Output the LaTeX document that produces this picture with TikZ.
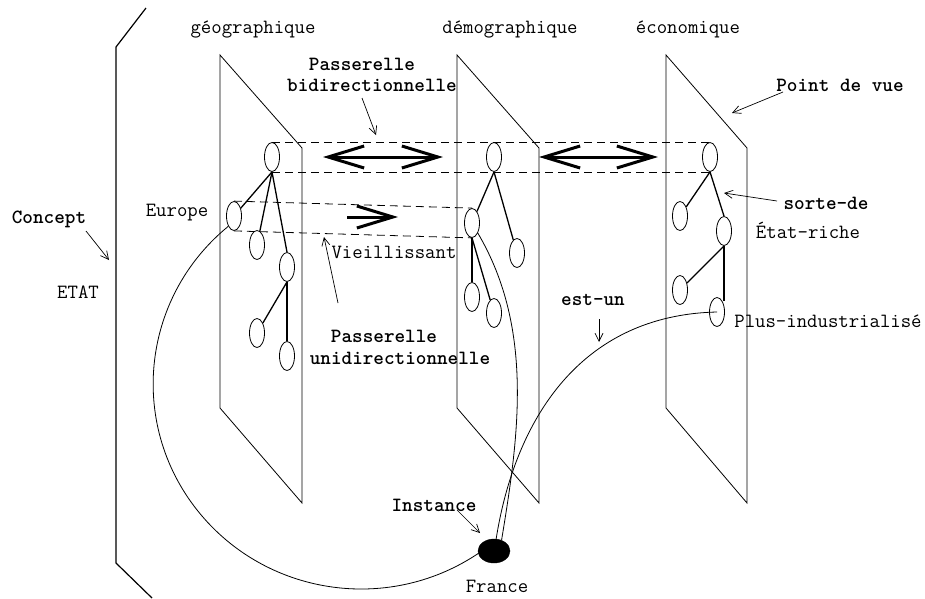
\documentclass[tikz,border=0pt]{standalone}
\usepackage{fontspec}
\usetikzlibrary{arrows.meta,calc,shapes.geometric}
\begin{document}
\begin{tikzpicture}[x=1pt,y=-1pt,
  lbl/.style={font=\ttfamily\fontsize{20.2}{22}\selectfont, inner sep=0, anchor=base},
  blbl/.style={lbl, font=\ttfamily\bfseries\fontsize{20.2}{22}\selectfont},
  ell/.style={draw, ellipse, minimum width=15, minimum height=29, inner sep=0, line width=0.8},
  plane/.style={line width=0.8},
  tr/.style={line width=1.3},
  dsh/.style={dash pattern=on 8pt off 5pt, line width=0.8},
  cv/.style={line width=0.8},
  thin/.style={line width=0.7, -{Straight Barb[length=8pt,width=8pt]}},
  bigarrow/.style={line width=3pt, >={Straight Barb[length=36pt,width=22pt]}}
]
\useasboundingbox (0,0) rectangle (925,598);

% concept bracket
\draw[line width=1.2] (146,8) -- (116,47) -- (116,563) -- (152,598);

% planes
\draw[plane] (220,55) -- (302,148) -- (302,503) -- (220,408) -- cycle;
\draw[plane] (457,55) -- (539,148) -- (539,503) -- (457,408) -- cycle;
\draw[plane] (666,55) -- (747,148) -- (747,503) -- (666,408) -- cycle;

% left tree
\node[ell] (g0) at (272,157) {};
\node[ell] (g1) at (234,216) {};
\node[ell] (g2) at (257,245) {};
\node[ell] (g3) at (287,267) {};
\node[ell] (g4) at (257,333) {};
\node[ell] (g5) at (287,356) {};
\draw[tr] (g0.south) -- (g1);
\draw[tr] (g0.south) -- (g2);
\draw[tr] (g0.south) -- (g3.north);
\draw[tr] (g3.south) -- (g4);
\draw[tr] (g3.south) -- (g5.north);

% middle tree
\node[ell] (m0) at (494,157) {};
\node[ell] (m1) at (472,223) {};
\node[ell] (m2) at (517,253) {};
\node[ell] (m3) at (472,297) {};
\node[ell] (m4) at (494,313) {};
\draw[tr] (m0.south) -- (m1);
\draw[tr] (m0.south) -- (m2);
\draw[tr] (m1.south) -- (m3.north);
\draw[tr] (m1.south) -- (m4);

% right tree
\node[ell] (r0) at (710,157) {};
\node[ell] (r1) at (680,216) {};
\node[ell] (r2) at (724,231) {};
\node[ell] (r3) at (680,290) {};
\node[ell] (r4) at (717,312) {};
\draw[tr] (r0.south) -- (r1);
\draw[tr] (r0.south) -- (r2.north);
\draw[tr] (r2.south) -- (r3);
\draw[tr] (r2.south) -- (r2.south |- r4.north east);

% instance
\node[draw, fill=black, ellipse, minimum width=32, minimum height=24, inner sep=0] (fr) at (494,551) {};

% dashed passerelles
\draw[dsh] (g0.north) -- (r0.north);
\draw[dsh] (g0.south) -- (r0.south);
\draw[dsh] (g1.north) -- (m1.north);
\draw[dsh] (g1.south) -- (m1.south);

% thick arrows
\coordinate (b1l) at (323,157);
\coordinate (b1r) at (443,157);
\coordinate (b2l) at (539,157);
\coordinate (b2r) at (658,157);
\coordinate (u1) at (347,217);
\coordinate (u2) at (398,217);
\draw[bigarrow,<->] (b1l) -- (b1r);
\draw[bigarrow,<->] (b2l) -- (b2r);
\draw[bigarrow,->] (u1) -- (u2);

% curves
\draw[cv] (g1.241) arc[start angle=-129.7, end angle=-304.9, x radius=208, y radius=205];
\draw[cv] (fr.80) .. controls (515,420) and (580,315) .. (r4.center);
\draw[cv] (m1.-60) .. controls (535,330) and (518,440) .. (fr.55);

% labels
\node[lbl] (tg) at (253,33) {géographique};
\node[lbl] (td) at (510,33) {démographique};
\node[lbl] (te) at (688,33) {économique};
\node[blbl] (pb1) at (362,70) {Passerelle};
\node[blbl] (pb2) at (372,91) {bidirectionnelle};
\node[blbl] (pv) at (840,91) {Point de vue};
\node[blbl] (sd) at (826,209) {sorte-de};
\node[lbl] (er) at (808,238) {État-riche};
\node[lbl] (eu) at (177,216) {Europe};
\node[blbl] (co) at (49,223) {Concept};
\node[lbl] (et) at (78,298) {ETAT};
\node[lbl] (vi) at (394,258) {Vieillissant};
\node[blbl] (eun) at (593,305) {est-un};
\node[lbl] (pi) at (828,327) {Plus-industrialisé};
\node[blbl] (pu1) at (384,342) {Passerelle};
\node[blbl] (pu2) at (400,364) {unidirectionnelle};
\node[blbl] (in) at (434,511) {Instance};
\node[lbl] (frl) at (497,592) {France};

% label pointers
\coordinate (a1s) at (362,98);  \coordinate (a1e) at (376,135);
\coordinate (a2s) at (783,92);  \coordinate (a2e) at (732,113);
\coordinate (a3s) at (777,201); \coordinate (a3e) at (724,193);
\coordinate (a4s) at (599,319); \coordinate (a4e) at (599,342);
\coordinate (a5s) at (86,231);  \coordinate (a5e) at (109,260);
\coordinate (a6s) at (338,303); \coordinate (a6e) at (324,237);
\coordinate (a7s) at (457,510); \coordinate (a7e) at (480,533);
\draw[thin] (a1s) -- (a1e);
\draw[thin] (a2s) -- (a2e);
\draw[thin] (a3s) -- (a3e);
\draw[thin] (a4s) -- (a4e);
\draw[thin] (a5s) -- (a5e);
\draw[thin] (a6s) -- (a6e);
\draw[thin] (a7s) -- (a7e);
\end{tikzpicture}
\end{document}
